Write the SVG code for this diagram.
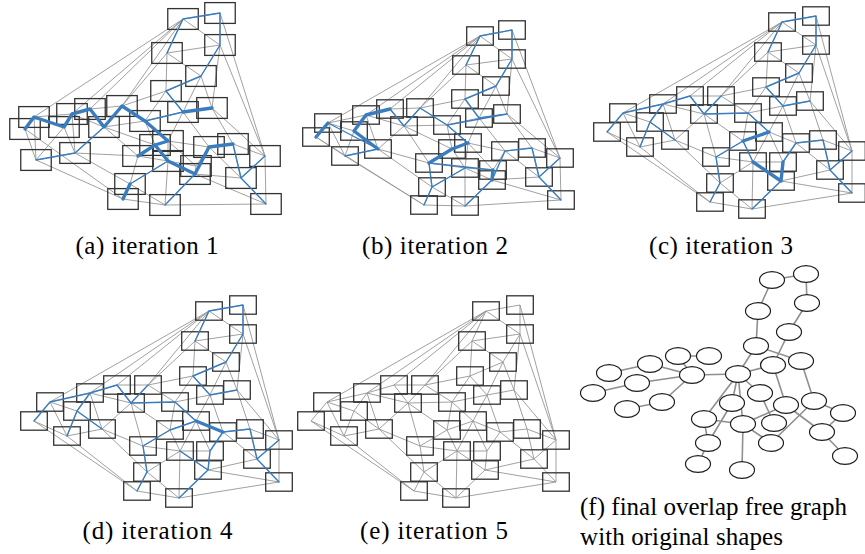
<svg xmlns="http://www.w3.org/2000/svg" xmlns:xlink="http://www.w3.org/1999/xlink" width="865" height="554" viewBox="0 0 865 554">
<style>
.g{fill:none;stroke:#969696;stroke-width:0.9}
.r{fill:none;stroke:#333;stroke-width:1.3}
.bl{fill:none;stroke:#3a7dbf;stroke-width:1.4;stroke-linecap:round}
.bt{fill:none;stroke:#3a7dbf;stroke-width:3.4;stroke-linecap:round;stroke-linejoin:round}
.fe{fill:none;stroke:#8f8f8f;stroke-width:1.6}
.fn{fill:#fff;stroke:#1e1e1e;stroke-width:1.2}
.lab{font-family:"Liberation Serif","DejaVu Serif",serif;font-size:25px;fill:#000}
</style>
<rect width="865" height="554" fill="#fff"/>
<defs>
<g id="meshE">
<path class="g" d="M486 311L520 305M520 305L520 334M486 311L520 334M486 311L472 341M486 311L327 402M486 311L367 393M486 311L394 385M486 311L425 385M520 305L556 440M520 334L556 440M520 334L472 341M520 334L503 362M472 341L503 362M472 341L470 376M472 341L425 385M503 362L470 376M503 362L514 390M503 362L487 395M520 334L514 390M470 376L487 395M470 376L425 385M470 376L452 402M514 390L487 395M514 390L527 429M514 390L556 440M487 395L452 402M487 395L473 421M487 395L500 432M425 385L394 385M425 385L408 403M425 385L452 402M394 385L367 393M394 385L408 403M367 393L327 402M367 393L354 411M367 393L408 403M367 393L379 429M327 402L311 421M327 402L354 411M327 402L344 436M311 421L344 436M311 421L414 491M354 411L344 436M354 411L379 429M408 403L379 429M408 403L452 402M408 403L447 430M408 403L420 446M452 402L473 421M452 402L447 430M344 436L379 429M344 436L414 491M379 429L420 446M379 429L424 472M473 421L447 430M473 421L500 432M473 421L457 451M473 421L487 451M447 430L420 446M447 430L457 451M420 446L457 451M420 446L424 472M500 432L527 429M500 432L487 451M500 432L534 459M527 429L556 440M527 429L534 459M556 440L534 459M556 440L556 482M534 459L556 482M534 459L485 470M457 451L487 451M457 451L424 472M457 451L485 470M457 451L456 498M487 451L485 470M485 470L456 498M485 470L556 482M424 472L414 491M424 472L456 498M414 491L456 498M456 498L556 482"/>
<g class="r">
<rect x="472.7" y="301.8" width="26.6" height="18.4"/>
<rect x="506.7" y="295.8" width="26.6" height="18.4"/>
<rect x="506.7" y="324.8" width="26.6" height="18.4"/>
<rect x="458.7" y="331.8" width="26.6" height="18.4"/>
<rect x="489.7" y="352.8" width="26.6" height="18.4"/>
<rect x="456.7" y="366.8" width="26.6" height="18.4"/>
<rect x="500.7" y="380.8" width="26.6" height="18.4"/>
<rect x="473.7" y="385.8" width="26.6" height="18.4"/>
<rect x="411.7" y="375.8" width="26.6" height="18.4"/>
<rect x="380.7" y="375.8" width="26.6" height="18.4"/>
<rect x="353.7" y="383.8" width="26.6" height="18.4"/>
<rect x="313.7" y="392.8" width="26.6" height="18.4"/>
<rect x="297.7" y="411.8" width="26.6" height="18.4"/>
<rect x="340.7" y="401.8" width="26.6" height="18.4"/>
<rect x="394.7" y="393.8" width="26.6" height="18.4"/>
<rect x="438.7" y="392.8" width="26.6" height="18.4"/>
<rect x="330.7" y="426.8" width="26.6" height="18.4"/>
<rect x="365.7" y="419.8" width="26.6" height="18.4"/>
<rect x="459.7" y="411.8" width="26.6" height="18.4"/>
<rect x="433.7" y="420.8" width="26.6" height="18.4"/>
<rect x="406.7" y="436.8" width="26.6" height="18.4"/>
<rect x="486.7" y="422.8" width="26.6" height="18.4"/>
<rect x="513.7" y="419.8" width="26.6" height="18.4"/>
<rect x="542.7" y="430.8" width="26.6" height="18.4"/>
<rect x="520.7" y="449.8" width="26.6" height="18.4"/>
<rect x="443.7" y="441.8" width="26.6" height="18.4"/>
<rect x="473.7" y="441.8" width="26.6" height="18.4"/>
<rect x="471.7" y="460.8" width="26.6" height="18.4"/>
<rect x="410.7" y="462.8" width="26.6" height="18.4"/>
<rect x="400.7" y="481.8" width="26.6" height="18.4"/>
<rect x="442.7" y="488.8" width="26.6" height="18.4"/>
<rect x="542.7" y="472.8" width="26.6" height="18.4"/>
</g>
</g>
</defs>

<!-- panel (a) -->
<g id="panel-a">
<path class="g" d="M183 19L220 13M220 13L220 45M183 19L220 45M183 19L167 53M183 19L34 117M183 19L72 114M183 19L90 109M183 19L122 106M220 13L265 156M220 45L265 156M220 45L167 53M220 45L201 76M167 53L201 76M167 53L166 91M167 53L122 106M201 76L166 91M201 76L212 108M201 76L183 112M220 45L212 108M166 91L183 112M166 91L122 106M166 91L145 121M212 108L183 112M212 108L233 144M212 108L265 156M183 112L145 121M183 112L168 141M183 112L209 147M122 106L90 109M122 106L104 127M122 106L145 121M90 109L72 114M90 109L104 127M72 114L34 117M72 114L64 127M72 114L104 127M72 114L75 153M34 117L25 129M34 117L64 127M34 117L36 160M25 129L36 160M25 129L123 199M64 127L36 160M64 127L75 153M104 127L75 153M104 127L145 121M104 127L155 145M104 127L138 156M145 121L168 141M145 121L155 145M36 160L75 153M36 160L123 199M75 153L138 156M75 153L130 184M168 141L155 145M168 141L209 147M168 141L168 161M168 141L196 166M155 145L138 156M155 145L168 161M138 156L168 161M138 156L130 184M209 147L233 144M209 147L196 166M209 147L241 178M233 144L265 156M233 144L241 178M265 156L241 178M265 156L266 204M241 178L266 204M241 178L195 174M168 161L196 166M168 161L130 184M168 161L195 174M168 161L165 205M196 166L195 174M195 174L165 205M195 174L266 204M130 184L123 199M130 184L165 205M123 199L165 205M165 205L266 204"/>
<g class="r">
<rect id="a1" x="167.75" y="8.6" width="30.5" height="20.8"/>
<rect id="a2" x="204.75" y="2.6" width="30.5" height="20.8"/>
<rect id="a3" x="204.75" y="34.6" width="30.5" height="20.8"/>
<rect id="a4" x="151.75" y="42.6" width="30.5" height="20.8"/>
<rect id="a5" x="185.75" y="65.6" width="30.5" height="20.8"/>
<rect id="a6" x="150.75" y="80.6" width="30.5" height="20.8"/>
<rect id="a7" x="196.75" y="97.6" width="30.5" height="20.8"/>
<rect id="a8" x="167.75" y="101.6" width="30.5" height="20.8"/>
<rect id="a9" x="106.75" y="95.6" width="30.5" height="20.8"/>
<rect id="a10" x="74.75" y="98.6" width="30.5" height="20.8"/>
<rect id="a11" x="56.75" y="103.6" width="30.5" height="20.8"/>
<rect id="a12" x="18.75" y="106.6" width="30.5" height="20.8"/>
<rect id="a13" x="9.75" y="118.6" width="30.5" height="20.8"/>
<rect id="a14" x="48.75" y="116.6" width="30.5" height="20.8"/>
<rect id="a15" x="88.75" y="116.6" width="30.5" height="20.8"/>
<rect id="a16" x="129.75" y="110.6" width="30.5" height="20.8"/>
<rect id="a17" x="20.75" y="149.6" width="30.5" height="20.8"/>
<rect id="a18" x="59.75" y="142.6" width="30.5" height="20.8"/>
<rect id="a19" x="152.75" y="130.6" width="30.5" height="20.8"/>
<rect id="a20" x="139.75" y="134.6" width="30.5" height="20.8"/>
<rect id="a21" x="122.75" y="145.6" width="30.5" height="20.8"/>
<rect id="a22" x="193.75" y="136.6" width="30.5" height="20.8"/>
<rect id="a23" x="217.75" y="133.6" width="30.5" height="20.8"/>
<rect id="a24" x="249.75" y="145.6" width="30.5" height="20.8"/>
<rect id="a25" x="225.75" y="167.6" width="30.5" height="20.8"/>
<rect id="a26" x="152.75" y="150.6" width="30.5" height="20.8"/>
<rect id="a27" x="180.75" y="155.6" width="30.5" height="20.8"/>
<rect id="a28" x="179.75" y="163.6" width="30.5" height="20.8"/>
<rect id="a29" x="114.75" y="173.6" width="30.5" height="20.8"/>
<rect id="a30" x="107.75" y="188.6" width="30.5" height="20.8"/>
<rect id="a31" x="149.75" y="194.6" width="30.5" height="20.8"/>
<rect id="a32" x="250.75" y="193.6" width="30.5" height="20.8"/>
</g>
<path class="bl" d="M183 19L220 13M220 13L220 45M183 19L167 53M220 45L201 76M201 76L166 91M166 91L183 112M145 121L183 112M233 144L241 178M241 178L265 156M241 178L266 204M195 174L165 205M168 161L130 184M36 160L75 153M75 153L104 127"/>
<path class="bt" d="M183 112L212 108M25 129L34 117L64 127L72 114L90 109L104 127L122 106L145 121L168 141L155 145L138 156M155 145L168 161L195 174L209 147L233 144M123 199L130 184"/>
</g>

<!-- panel (b) -->
<g id="panel-b">
<path class="g" d="M480 36L512 30M512 30L512 59M480 36L512 59M480 36L466 65M480 36L328 123M480 36L366 115M480 36L390 109M480 36L420 108M512 30L560 158M512 59L560 158M512 59L466 65M512 59L496 86M466 65L496 86M466 65L465 99M466 65L420 108M496 86L465 99M496 86L507 114M496 86L479 118M512 59L507 114M465 99L479 118M465 99L420 108M465 99L447 125M507 114L479 118M507 114L532 148M507 114L560 158M479 118L447 125M479 118L468 143M479 118L505 151M420 108L390 109M420 108L404 126M420 108L447 125M390 109L366 115M390 109L404 126M366 115L328 123M366 115L354 131M366 115L404 126M366 115L378 149M328 123L316 137M328 123L354 131M328 123L345 156M316 137L345 156M316 137L424 205M354 131L345 156M354 131L378 149M404 126L378 149M404 126L447 125M404 126L452 149M404 126L429 163M447 125L468 143M447 125L452 149M345 156L378 149M345 156L424 205M378 149L429 163M378 149L432 187M468 143L452 149M468 143L505 151M468 143L465 168M468 143L493 170M452 149L429 163M452 149L465 168M429 163L465 168M429 163L432 187M505 151L532 148M505 151L493 170M505 151L539 177M532 148L560 158M532 148L539 177M560 158L539 177M560 158L561 200M539 177L561 200M539 177L492 180M465 168L493 170M465 168L432 187M465 168L492 180M465 168L465 206M493 170L492 180M492 180L465 206M492 180L561 200M432 187L424 205M432 187L465 206M424 205L465 206M465 206L561 200"/>
<g class="r">
<rect id="b1" x="466.7" y="26.8" width="26.6" height="18.4"/>
<rect id="b2" x="498.7" y="20.8" width="26.6" height="18.4"/>
<rect id="b3" x="498.7" y="49.8" width="26.6" height="18.4"/>
<rect id="b4" x="452.7" y="55.8" width="26.6" height="18.4"/>
<rect id="b5" x="482.7" y="76.8" width="26.6" height="18.4"/>
<rect id="b6" x="451.7" y="89.8" width="26.6" height="18.4"/>
<rect id="b7" x="493.7" y="104.8" width="26.6" height="18.4"/>
<rect id="b8" x="465.7" y="108.8" width="26.6" height="18.4"/>
<rect id="b9" x="406.7" y="98.8" width="26.6" height="18.4"/>
<rect id="b10" x="376.7" y="99.8" width="26.6" height="18.4"/>
<rect id="b11" x="352.7" y="105.8" width="26.6" height="18.4"/>
<rect id="b12" x="314.7" y="113.8" width="26.6" height="18.4"/>
<rect id="b13" x="302.7" y="127.8" width="26.6" height="18.4"/>
<rect id="b14" x="340.7" y="121.8" width="26.6" height="18.4"/>
<rect id="b15" x="390.7" y="116.8" width="26.6" height="18.4"/>
<rect id="b16" x="433.7" y="115.8" width="26.6" height="18.4"/>
<rect id="b17" x="331.7" y="146.8" width="26.6" height="18.4"/>
<rect id="b18" x="364.7" y="139.8" width="26.6" height="18.4"/>
<rect id="b19" x="454.7" y="133.8" width="26.6" height="18.4"/>
<rect id="b20" x="438.7" y="139.8" width="26.6" height="18.4"/>
<rect id="b21" x="415.7" y="153.8" width="26.6" height="18.4"/>
<rect id="b22" x="491.7" y="141.8" width="26.6" height="18.4"/>
<rect id="b23" x="518.7" y="138.8" width="26.6" height="18.4"/>
<rect id="b24" x="546.7" y="148.8" width="26.6" height="18.4"/>
<rect id="b25" x="525.7" y="167.8" width="26.6" height="18.4"/>
<rect id="b26" x="451.7" y="158.8" width="26.6" height="18.4"/>
<rect id="b27" x="479.7" y="160.8" width="26.6" height="18.4"/>
<rect id="b28" x="478.7" y="170.8" width="26.6" height="18.4"/>
<rect id="b29" x="418.7" y="177.8" width="26.6" height="18.4"/>
<rect id="b30" x="410.7" y="195.8" width="26.6" height="18.4"/>
<rect id="b31" x="451.7" y="196.8" width="26.6" height="18.4"/>
<rect id="b32" x="547.7" y="190.8" width="26.6" height="18.4"/>
</g>
<path class="bl" d="M480 36L512 30M512 30L512 59M480 36L466 65M512 59L496 86M496 86L465 99M465 99L479 118M479 118L507 114M328 123L378 149M345 156L378 149M390 109L404 126M404 126L420 108M420 108L447 125M447 125L468 143M447 125L507 114M429 163L493 170M492 180L505 151M505 151L532 148M532 148L539 177M539 177L560 158M539 177L561 200M432 187L465 168M432 187L424 205M492 180L465 206M429 163L432 187"/>
<path class="bt" d="M316 137L328 123M390 109L366 115L354 131L378 149M429 163L452 149L468 143M493 170L492 180"/>
</g>

<!-- panel (c) -->
<g id="panel-c" transform="translate(296,-289)">
<use xlink:href="#meshE" href="#meshE"/>
<path class="bl" d="M486 311L520 305M520 305L520 334M486 311L472 341M520 334L503 362M503 362L470 376M470 376L487 395M487 395L514 390M327 402L311 421M327 402L367 393M367 393L394 385M367 393L354 411M354 411L344 436M354 411L379 429M394 385L408 403M408 403L425 385M408 403L452 402M452 402L473 421M447 430L420 446M420 446L424 472M424 472L414 491M447 430L457 451M487 451L500 432M500 432L527 429M527 429L534 459M534 459L556 440M534 459L556 482M485 470L456 498"/>
<path class="bt" d="M473 421L447 430M457 451L485 470L487 451"/>
</g>

<!-- panel (d) -->
<g id="panel-d" transform="translate(-277,0)">
<use xlink:href="#meshE" href="#meshE"/>
<path class="bl" d="M486 311L520 305M520 305L520 334M486 311L472 341M520 334L503 362M503 362L470 376M470 376L487 395M487 395L514 390M327 402L311 421M327 402L367 393M367 393L394 385M367 393L354 411M354 411L344 436M354 411L379 429M394 385L408 403M408 403L425 385M408 403L452 402M452 402L473 421M500 432L527 429M527 429L534 459M534 459L556 440M534 459L556 482M473 421L447 430M447 430L420 446M420 446L424 472M424 472L414 491M500 432L487 451M487 451L485 470M457 451L485 470M485 470L456 498"/>
<path class="bt" d="M473 421L500 432"/>
</g>

<!-- panel (e) -->
<g id="panel-e">
<use xlink:href="#meshE" href="#meshE"/>
</g>

<!-- panel (f) -->
<g id="panel-f">
<g id="f-edges" class="fe">
<path d="M772 280L806 274M806 274L807 303M772 280L758 311M807 303L789 332M758 311L756 346M789 332L773 365M756 346L801 361M756 346L738 374M738 374L773 365M801 361L814 401M773 365L786 405M738 374L692 375M678 356L709 356M650 364L692 375M637 383L692 375M692 375L662 402M609 373L650 364M593 393L637 383M627 409L662 402M678 356L692 375M738 374L732 403M738 374L743 424M738 374L704 419M738 374L760 393M732 403L708 443M704 419L708 443M708 443L698 464M704 419L743 424M743 424L742 470M743 424L786 405M743 424L771 443M760 393L774 423M771 443L814 401M786 405L822 432M814 401L843 413M843 413L822 432M822 432L845 456"/>
</g>
<g class="fn">
<g id="f1"><ellipse cx="772" cy="280" rx="12.5" ry="8.4"/></g>
<g id="f2"><ellipse cx="806" cy="274" rx="12.5" ry="8.4"/></g>
<g id="f3"><ellipse cx="807" cy="303" rx="12.5" ry="8.4"/></g>
<g id="f4"><ellipse cx="758" cy="311" rx="12.5" ry="8.4"/></g>
<g id="f5"><ellipse cx="789" cy="332" rx="12.5" ry="8.4"/></g>
<g id="f6"><ellipse cx="756" cy="346" rx="12.5" ry="8.4"/></g>
<g id="f7"><ellipse cx="801" cy="361" rx="12.5" ry="8.4"/></g>
<g id="f8"><ellipse cx="773" cy="365" rx="12.5" ry="8.4"/></g>
<g id="f9"><ellipse cx="738" cy="374" rx="12.5" ry="8.4"/></g>
<g id="f10"><ellipse cx="709" cy="356" rx="12.5" ry="8.4"/></g>
<g id="f11"><ellipse cx="678" cy="356" rx="12.5" ry="8.4"/></g>
<g id="f12"><ellipse cx="650" cy="364" rx="12.5" ry="8.4"/></g>
<g id="f13"><ellipse cx="609" cy="373" rx="12.5" ry="8.4"/></g>
<g id="f14"><ellipse cx="637" cy="383" rx="12.5" ry="8.4"/></g>
<g id="f15"><ellipse cx="692" cy="375" rx="12.5" ry="8.4"/></g>
<g id="f16"><ellipse cx="593" cy="393" rx="12.5" ry="8.4"/></g>
<g id="f17"><ellipse cx="627" cy="409" rx="12.5" ry="8.4"/></g>
<g id="f18"><ellipse cx="662" cy="402" rx="12.5" ry="8.4"/></g>
<g id="f20"><ellipse cx="732" cy="403" rx="12.5" ry="8.4"/></g>
<g id="f21"><ellipse cx="760" cy="393" rx="12.5" ry="8.4"/></g>
<g id="f22"><ellipse cx="786" cy="405" rx="12.5" ry="8.4"/></g>
<g id="f23"><ellipse cx="814" cy="401" rx="12.5" ry="8.4"/></g>
<g id="f24"><ellipse cx="843" cy="413" rx="12.5" ry="8.4"/></g>
<g id="f25"><ellipse cx="822" cy="432" rx="12.5" ry="8.4"/></g>
<g id="f26"><ellipse cx="845" cy="456" rx="12.5" ry="8.4"/></g>
<g id="f27"><ellipse cx="774" cy="423" rx="12.5" ry="8.4"/></g>
<g id="f28"><ellipse cx="771" cy="443" rx="12.5" ry="8.4"/></g>
<g id="f29"><ellipse cx="743" cy="424" rx="12.5" ry="8.4"/></g>
<g id="f30"><ellipse cx="704" cy="419" rx="12.5" ry="8.4"/></g>
<g id="f31"><ellipse cx="708" cy="443" rx="12.5" ry="8.4"/></g>
<g id="f32"><ellipse cx="698" cy="464" rx="12.5" ry="8.4"/></g>
<g id="f33"><ellipse cx="742" cy="470" rx="12.5" ry="8.4"/></g>
</g>
</g>

<!-- labels -->
<g class="lab">
<text x="147" y="254" text-anchor="middle" textLength="143" lengthAdjust="spacing">(a) iteration 1</text>
<text x="435" y="254" text-anchor="middle" textLength="146" lengthAdjust="spacing">(b) iteration 2</text>
<text x="721" y="254" text-anchor="middle" textLength="144" lengthAdjust="spacing">(c) iteration 3</text>
<text x="157.5" y="539" text-anchor="middle" textLength="150" lengthAdjust="spacing">(d) iteration 4</text>
<text x="434" y="539" text-anchor="middle" textLength="148" lengthAdjust="spacing">(e) iteration 5</text>
<text x="580" y="515" textLength="267" lengthAdjust="spacing">(f) final overlap free graph</text>
<text x="580" y="545" textLength="203" lengthAdjust="spacing">with original shapes</text>
</g>
</svg>
